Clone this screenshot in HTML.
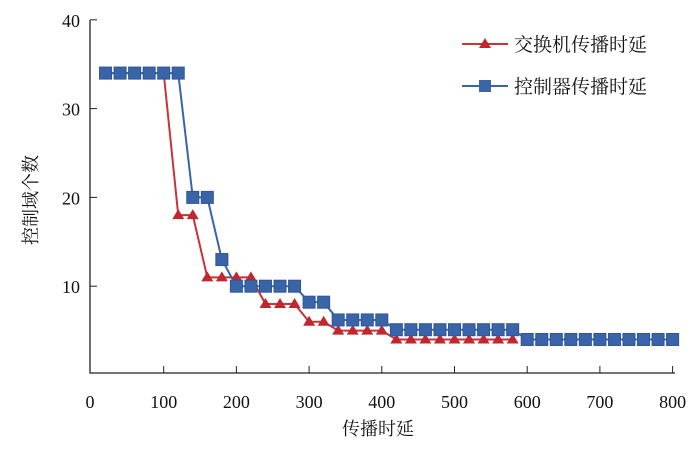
<!DOCTYPE html>
<html><head><meta charset="utf-8"><style>
body{margin:0;background:#fff;}
svg text{font-family:"Liberation Serif","Noto Serif CJK SC",serif;fill:#111;}
</style></head><body>
<svg width="700" height="449" viewBox="0 0 700 449">
<g id="axes"></g><g id="series"></g>
<g>
 <g>
  <line x1="462" y1="44" x2="508" y2="44" stroke="#c8323a" stroke-width="2"/>
  <polygon points="485,38 491,48 479,48" fill="#c0282f"/>
  <text x="514" y="51" font-size="19">交换机传播时延</text>
 </g>
 <g>
  <line x1="462" y1="86" x2="508" y2="86" stroke="#3a64a8" stroke-width="2"/>
  <rect x="479" y="80" width="12" height="12" fill="#3a64a8"/>
  <text x="514" y="93" font-size="19">控制器传播时延</text>
 </g>
</g>
<text x="378" y="435" font-size="18" text-anchor="middle">传播时延</text>
<text transform="translate(37,200) rotate(-90)" font-size="18" text-anchor="middle">控制域个数</text>
</svg>
<script>
const xTicks=[0,100,200,300,400,500,600,700,800];
const yTicks=[10,20,30,40];
const xSwitch=[20,40,60,80,100,120,140,160,180,200,220,240,260,280,300,320,340,360,380,400,420,440,460,480,500,520,540,560,580];
const ySwitch=[34,34,34,34,34,18,18,11,11,11,11,8,8,8,6,6,5,5,5,5,4,4,4,4,4,4,4,4,4];
const xCtrl=[20,40,60,80,100,120,140,160,180,200,220,240,260,280,300,320,340,360,380,400,420,440,460,480,500,520,540,560,580,600,620,640,660,680,700,720,740,760,780,800];
const yCtrl=[34,34,34,34,34,34,20,20,13,10,10,10,10,10,8.2,8.2,6.2,6.2,6.2,6.2,5.1,5.1,5.1,5.1,5.1,5.1,5.1,5.1,5.1,4,4,4,4,4,4,4,4,4,4,4];
const NS='http://www.w3.org/2000/svg';
function sx(v){return 91+v*0.727;}
function sy(v){return 375-v*8.88;}
function mk(t,a,p){const e=document.createElementNS(NS,t);for(const k in a)e.setAttribute(k,a[k]);p.appendChild(e);return e;}
const ax=document.getElementById('axes'),se=document.getElementById('series');
let l=mk('path',{d:'M90,20 V373 H675',fill:'none',stroke:'#222','stroke-width':1.3},ax);


xTicks.forEach(v=>{
 if(v>0){const t=mk('line',{x1:sx(v),x2:sx(v),y1:373,y2:366,stroke:'#222'},ax);
 
 }
 const tx=mk('text',{x:v==0?90:sx(v),y:408,'font-size':18,'text-anchor':'middle'},ax);tx.textContent=v;
 
 
});
yTicks.forEach(v=>{
 const t=mk('line',{x1:90,x2:97,y1:sy(v),y2:sy(v),stroke:'#222'},ax);
 
 
 const tx=mk('text',{x:80,y:sy(v)+7,'font-size':18,'text-anchor':'end'},ax);tx.textContent=v;
 
 
});
function series(xs,ys,color,shape,name){
 const g=mk('g',{},se);
 
 
 const pl=mk('polyline',{points:xs.map((x,i)=>sx(x)+','+sy(ys[i])).join(' '),fill:'none',stroke:color,'stroke-width':2},g);
 
 
 xs.forEach((x,i)=>{
  const X=sx(x),Y=sy(ys[i]);let m;
  if(shape=='sq')m=mk('rect',{x:X-6,y:Y-6,width:12,height:12,fill:'#3a64a8',stroke:'#2f5596'},g);
  else m=mk('polygon',{points:`${X},${Y-6} ${X+6},${Y+4} ${X-6},${Y+4}`,fill:'#c0282f'},g);
  
  
 });
}
series(xSwitch,ySwitch,'#c8323a','tri','switch-series');
series(xCtrl,yCtrl,'#3a64a8','sq','controller-series');
</script>
</body></html>
